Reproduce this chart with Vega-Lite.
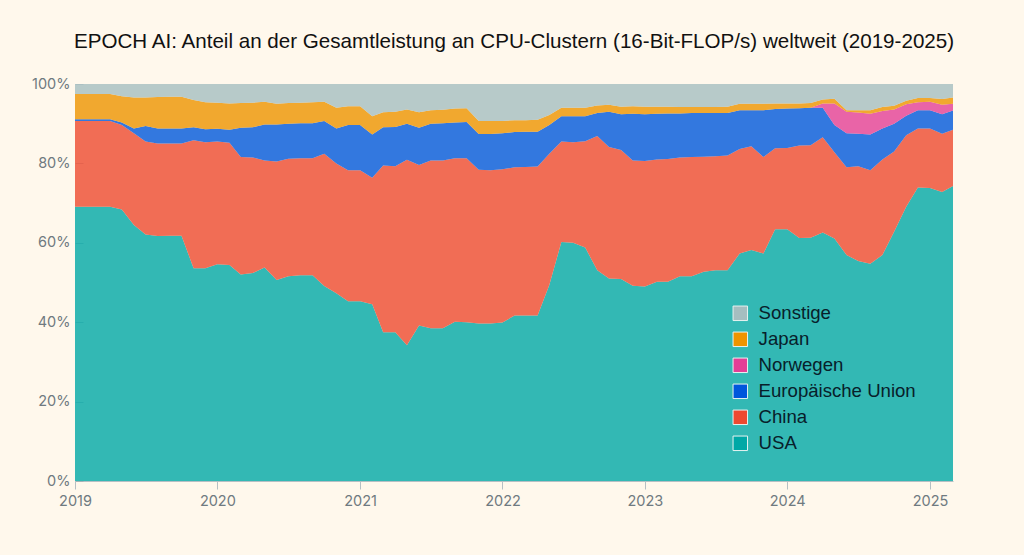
{"$schema":"https://vega.github.io/schema/vega-lite/v6.json","width":878,"height":397,"autosize":{"type":"none"},"padding":{"left":75,"top":84,"right":71,"bottom":74},"background":"#fff8ec","title":{"text":"EPOCH AI: Anteil an der Gesamtleistung an CPU-Clustern (16-Bit-FLOP/s) weltweit (2019-2025)","font":"Liberation Sans","fontSize":20.6,"fontWeight":"normal","color":"#111111","anchor":"middle","offset":23},"config":{"view":{"stroke":null}},"datasets":{"stacking":[{"region":"USA","rank":1},{"region":"China","rank":2},{"region":"Europäische Union","rank":3},{"region":"Norwegen","rank":4},{"region":"Japan","rank":5},{"region":"Sonstige","rank":6}],"shares":[
{"month":"2019-01-01","region":"USA","share":69.1},{"month":"2019-02-01","region":"USA","share":69.1},{"month":"2019-03-01","region":"USA","share":69.1},{"month":"2019-04-01","region":"USA","share":69.1},{"month":"2019-05-01","region":"USA","share":68.4},{"month":"2019-06-01","region":"USA","share":64.5},{"month":"2019-07-01","region":"USA","share":62.1},{"month":"2019-08-01","region":"USA","share":61.7},{"month":"2019-09-01","region":"USA","share":61.8},{"month":"2019-10-01","region":"USA","share":61.8},{"month":"2019-11-01","region":"USA","share":53.6},{"month":"2019-12-01","region":"USA","share":53.6},
{"month":"2020-01-01","region":"USA","share":54.6},{"month":"2020-02-01","region":"USA","share":54.4},{"month":"2020-03-01","region":"USA","share":52},{"month":"2020-04-01","region":"USA","share":52.4},{"month":"2020-05-01","region":"USA","share":53.8},{"month":"2020-06-01","region":"USA","share":50.6},{"month":"2020-07-01","region":"USA","share":51.6},{"month":"2020-08-01","region":"USA","share":51.8},{"month":"2020-09-01","region":"USA","share":51.8},{"month":"2020-10-01","region":"USA","share":49.1},{"month":"2020-11-01","region":"USA","share":47.3},{"month":"2020-12-01","region":"USA","share":45.3},
{"month":"2021-01-01","region":"USA","share":45.3},{"month":"2021-02-01","region":"USA","share":44.5},{"month":"2021-03-01","region":"USA","share":37.5},{"month":"2021-04-01","region":"USA","share":37.5},{"month":"2021-05-01","region":"USA","share":34.2},{"month":"2021-06-01","region":"USA","share":39.2},{"month":"2021-07-01","region":"USA","share":38.5},{"month":"2021-08-01","region":"USA","share":38.5},{"month":"2021-09-01","region":"USA","share":40.1},{"month":"2021-10-01","region":"USA","share":40},{"month":"2021-11-01","region":"USA","share":39.7},{"month":"2021-12-01","region":"USA","share":39.7},
{"month":"2022-01-01","region":"USA","share":39.9},{"month":"2022-02-01","region":"USA","share":41.7},{"month":"2022-03-01","region":"USA","share":41.7},{"month":"2022-04-01","region":"USA","share":41.7},{"month":"2022-05-01","region":"USA","share":49.4},{"month":"2022-06-01","region":"USA","share":60.2},{"month":"2022-07-01","region":"USA","share":60},{"month":"2022-08-01","region":"USA","share":58.8},{"month":"2022-09-01","region":"USA","share":53.1},{"month":"2022-10-01","region":"USA","share":51},{"month":"2022-11-01","region":"USA","share":50.9},{"month":"2022-12-01","region":"USA","share":49.2},
{"month":"2023-01-01","region":"USA","share":49},{"month":"2023-02-01","region":"USA","share":50.2},{"month":"2023-03-01","region":"USA","share":50.2},{"month":"2023-04-01","region":"USA","share":51.6},{"month":"2023-05-01","region":"USA","share":51.6},{"month":"2023-06-01","region":"USA","share":52.7},{"month":"2023-07-01","region":"USA","share":53.1},{"month":"2023-08-01","region":"USA","share":53.1},{"month":"2023-09-01","region":"USA","share":57.3},{"month":"2023-10-01","region":"USA","share":58.2},{"month":"2023-11-01","region":"USA","share":57.3},{"month":"2023-12-01","region":"USA","share":63.4},
{"month":"2024-01-01","region":"USA","share":63.4},{"month":"2024-02-01","region":"USA","share":61.2},{"month":"2024-03-01","region":"USA","share":61.3},{"month":"2024-04-01","region":"USA","share":62.6},{"month":"2024-05-01","region":"USA","share":61.1},{"month":"2024-06-01","region":"USA","share":56.9},{"month":"2024-07-01","region":"USA","share":55.4},{"month":"2024-08-01","region":"USA","share":54.7},{"month":"2024-09-01","region":"USA","share":56.9},{"month":"2024-10-01","region":"USA","share":62.8},{"month":"2024-11-01","region":"USA","share":69.1},{"month":"2024-12-01","region":"USA","share":73.9},
{"month":"2025-01-01","region":"USA","share":73.8},{"month":"2025-02-01","region":"USA","share":72.8},{"month":"2025-03-01","region":"USA","share":74.3},

{"month":"2019-01-01","region":"China","share":21.6},{"month":"2019-02-01","region":"China","share":21.6},{"month":"2019-03-01","region":"China","share":21.6},{"month":"2019-04-01","region":"China","share":21.6},{"month":"2019-05-01","region":"China","share":21.3},{"month":"2019-06-01","region":"China","share":23.1},{"month":"2019-07-01","region":"China","share":23.4},{"month":"2019-08-01","region":"China","share":23.3},{"month":"2019-09-01","region":"China","share":23.2},{"month":"2019-10-01","region":"China","share":23.2},{"month":"2019-11-01","region":"China","share":32.2},{"month":"2019-12-01","region":"China","share":31.7},
{"month":"2020-01-01","region":"China","share":30.9},{"month":"2020-02-01","region":"China","share":30.8},{"month":"2020-03-01","region":"China","share":29.6},{"month":"2020-04-01","region":"China","share":29.1},{"month":"2020-05-01","region":"China","share":26.9},{"month":"2020-06-01","region":"China","share":29.9},{"month":"2020-07-01","region":"China","share":29.6},{"month":"2020-08-01","region":"China","share":29.5},{"month":"2020-09-01","region":"China","share":29.5},{"month":"2020-10-01","region":"China","share":33.3},{"month":"2020-11-01","region":"China","share":32.7},{"month":"2020-12-01","region":"China","share":33},
{"month":"2021-01-01","region":"China","share":33},{"month":"2021-02-01","region":"China","share":31.9},{"month":"2021-03-01","region":"China","share":42},{"month":"2021-04-01","region":"China","share":41.8},{"month":"2021-05-01","region":"China","share":46.7},{"month":"2021-06-01","region":"China","share":40.4},{"month":"2021-07-01","region":"China","share":42.2},{"month":"2021-08-01","region":"China","share":42.2},{"month":"2021-09-01","region":"China","share":41.2},{"month":"2021-10-01","region":"China","share":41.3},{"month":"2021-11-01","region":"China","share":38.7},{"month":"2021-12-01","region":"China","share":38.6},
{"month":"2022-01-01","region":"China","share":38.6},{"month":"2022-02-01","region":"China","share":37.3},{"month":"2022-03-01","region":"China","share":37.4},{"month":"2022-04-01","region":"China","share":37.5},{"month":"2022-05-01","region":"China","share":33},{"month":"2022-06-01","region":"China","share":25.3},{"month":"2022-07-01","region":"China","share":25.3},{"month":"2022-08-01","region":"China","share":26.8},{"month":"2022-09-01","region":"China","share":33.8},{"month":"2022-10-01","region":"China","share":33.1},{"month":"2022-11-01","region":"China","share":32.5},{"month":"2022-12-01","region":"China","share":31.5},
{"month":"2023-01-01","region":"China","share":31.6},{"month":"2023-02-01","region":"China","share":30.8},{"month":"2023-03-01","region":"China","share":30.9},{"month":"2023-04-01","region":"China","share":29.9},{"month":"2023-05-01","region":"China","share":30},{"month":"2023-06-01","region":"China","share":29},{"month":"2023-07-01","region":"China","share":28.7},{"month":"2023-08-01","region":"China","share":28.9},{"month":"2023-09-01","region":"China","share":26.3},{"month":"2023-10-01","region":"China","share":26.1},{"month":"2023-11-01","region":"China","share":24.3},{"month":"2023-12-01","region":"China","share":20.4},
{"month":"2024-01-01","region":"China","share":20.5},{"month":"2024-02-01","region":"China","share":23.3},{"month":"2024-03-01","region":"China","share":23.3},{"month":"2024-04-01","region":"China","share":24},{"month":"2024-05-01","region":"China","share":21.7},{"month":"2024-06-01","region":"China","share":22.1},{"month":"2024-07-01","region":"China","share":23.9},{"month":"2024-08-01","region":"China","share":23.6},{"month":"2024-09-01","region":"China","share":24.1},{"month":"2024-10-01","region":"China","share":20.2},{"month":"2024-11-01","region":"China","share":18},{"month":"2024-12-01","region":"China","share":14.9},
{"month":"2025-01-01","region":"China","share":15},{"month":"2025-02-01","region":"China","share":14.7},{"month":"2025-03-01","region":"China","share":14.2},

{"month":"2019-01-01","region":"Europäische Union","share":0.4},{"month":"2019-02-01","region":"Europäische Union","share":0.4},{"month":"2019-03-01","region":"Europäische Union","share":0.4},{"month":"2019-04-01","region":"Europäische Union","share":0.4},{"month":"2019-05-01","region":"Europäische Union","share":0.6},{"month":"2019-06-01","region":"Europäische Union","share":1.2},{"month":"2019-07-01","region":"Europäische Union","share":3.9},{"month":"2019-08-01","region":"Europäische Union","share":3.8},{"month":"2019-09-01","region":"Europäische Union","share":3.8},{"month":"2019-10-01","region":"Europäische Union","share":3.8},{"month":"2019-11-01","region":"Europäische Union","share":3.3},{"month":"2019-12-01","region":"Europäische Union","share":3.3},
{"month":"2020-01-01","region":"Europäische Union","share":3.2},{"month":"2020-02-01","region":"Europäische Union","share":3.3},{"month":"2020-03-01","region":"Europäische Union","share":7.4},{"month":"2020-04-01","region":"Europäische Union","share":7.6},{"month":"2020-05-01","region":"Europäische Union","share":9.1},{"month":"2020-06-01","region":"Europäische Union","share":9.3},{"month":"2020-07-01","region":"Europäische Union","share":8.8},{"month":"2020-08-01","region":"Europäische Union","share":8.8},{"month":"2020-09-01","region":"Europäische Union","share":8.8},{"month":"2020-10-01","region":"Europäische Union","share":8.3},{"month":"2020-11-01","region":"Europäische Union","share":8.8},{"month":"2020-12-01","region":"Europäische Union","share":11.4},
{"month":"2021-01-01","region":"Europäische Union","share":11.4},{"month":"2021-02-01","region":"Europäische Union","share":10.9},{"month":"2021-03-01","region":"Europäische Union","share":9.6},{"month":"2021-04-01","region":"Europäische Union","share":9.9},{"month":"2021-05-01","region":"Europäische Union","share":9.1},{"month":"2021-06-01","region":"Europäische Union","share":9.4},{"month":"2021-07-01","region":"Europäische Union","share":9.3},{"month":"2021-08-01","region":"Europäische Union","share":9.4},{"month":"2021-09-01","region":"Europäische Union","share":9},{"month":"2021-10-01","region":"Europäische Union","share":9.1},{"month":"2021-11-01","region":"Europäische Union","share":9},{"month":"2021-12-01","region":"Europäische Union","share":9.1},
{"month":"2022-01-01","region":"Europäische Union","share":9.1},{"month":"2022-02-01","region":"Europäische Union","share":8.9},{"month":"2022-03-01","region":"Europäische Union","share":8.9},{"month":"2022-04-01","region":"Europäische Union","share":8.8},{"month":"2022-05-01","region":"Europäische Union","share":7.3},{"month":"2022-06-01","region":"Europäische Union","share":6.4},{"month":"2022-07-01","region":"Europäische Union","share":6.6},{"month":"2022-08-01","region":"Europäische Union","share":6.3},{"month":"2022-09-01","region":"Europäische Union","share":5.8},{"month":"2022-10-01","region":"Europäische Union","share":8.9},{"month":"2022-11-01","region":"Europäische Union","share":9},{"month":"2022-12-01","region":"Europäische Union","share":11.8},
{"month":"2023-01-01","region":"Europäische Union","share":11.8},{"month":"2023-02-01","region":"Europäische Union","share":11.5},{"month":"2023-03-01","region":"Europäische Union","share":11.5},{"month":"2023-04-01","region":"Europäische Union","share":11.1},{"month":"2023-05-01","region":"Europäische Union","share":11.1},{"month":"2023-06-01","region":"Europäische Union","share":11},{"month":"2023-07-01","region":"Europäische Union","share":10.9},{"month":"2023-08-01","region":"Europäische Union","share":10.7},{"month":"2023-09-01","region":"Europäische Union","share":9.8},{"month":"2023-10-01","region":"Europäische Union","share":9.1},{"month":"2023-11-01","region":"Europäische Union","share":11.8},{"month":"2023-12-01","region":"Europäische Union","share":9.9},
{"month":"2024-01-01","region":"Europäische Union","share":9.9},{"month":"2024-02-01","region":"Europäische Union","share":9.4},{"month":"2024-03-01","region":"Europäische Union","share":9.4},{"month":"2024-04-01","region":"Europäische Union","share":7.4},{"month":"2024-05-01","region":"Europäische Union","share":6.9},{"month":"2024-06-01","region":"Europäische Union","share":8.6},{"month":"2024-07-01","region":"Europäische Union","share":8.2},{"month":"2024-08-01","region":"Europäische Union","share":9},{"month":"2024-09-01","region":"Europäische Union","share":7.8},{"month":"2024-10-01","region":"Europäische Union","share":7},{"month":"2024-11-01","region":"Europäische Union","share":4.9},{"month":"2024-12-01","region":"Europäische Union","share":4.6},
{"month":"2025-01-01","region":"Europäische Union","share":4.6},{"month":"2025-02-01","region":"Europäische Union","share":4.9},{"month":"2025-03-01","region":"Europäische Union","share":4.8},

{"month":"2019-01-01","region":"Norwegen","share":0},{"month":"2019-02-01","region":"Norwegen","share":0},{"month":"2019-03-01","region":"Norwegen","share":0},{"month":"2019-04-01","region":"Norwegen","share":0},{"month":"2019-05-01","region":"Norwegen","share":0},{"month":"2019-06-01","region":"Norwegen","share":0},{"month":"2019-07-01","region":"Norwegen","share":0},{"month":"2019-08-01","region":"Norwegen","share":0},{"month":"2019-09-01","region":"Norwegen","share":0},{"month":"2019-10-01","region":"Norwegen","share":0},{"month":"2019-11-01","region":"Norwegen","share":0},{"month":"2019-12-01","region":"Norwegen","share":0},
{"month":"2020-01-01","region":"Norwegen","share":0},{"month":"2020-02-01","region":"Norwegen","share":0},{"month":"2020-03-01","region":"Norwegen","share":0},{"month":"2020-04-01","region":"Norwegen","share":0},{"month":"2020-05-01","region":"Norwegen","share":0},{"month":"2020-06-01","region":"Norwegen","share":0},{"month":"2020-07-01","region":"Norwegen","share":0},{"month":"2020-08-01","region":"Norwegen","share":0},{"month":"2020-09-01","region":"Norwegen","share":0},{"month":"2020-10-01","region":"Norwegen","share":0},{"month":"2020-11-01","region":"Norwegen","share":0},{"month":"2020-12-01","region":"Norwegen","share":0},
{"month":"2021-01-01","region":"Norwegen","share":0},{"month":"2021-02-01","region":"Norwegen","share":0},{"month":"2021-03-01","region":"Norwegen","share":0},{"month":"2021-04-01","region":"Norwegen","share":0},{"month":"2021-05-01","region":"Norwegen","share":0},{"month":"2021-06-01","region":"Norwegen","share":0},{"month":"2021-07-01","region":"Norwegen","share":0},{"month":"2021-08-01","region":"Norwegen","share":0},{"month":"2021-09-01","region":"Norwegen","share":0},{"month":"2021-10-01","region":"Norwegen","share":0},{"month":"2021-11-01","region":"Norwegen","share":0},{"month":"2021-12-01","region":"Norwegen","share":0},
{"month":"2022-01-01","region":"Norwegen","share":0},{"month":"2022-02-01","region":"Norwegen","share":0},{"month":"2022-03-01","region":"Norwegen","share":0},{"month":"2022-04-01","region":"Norwegen","share":0},{"month":"2022-05-01","region":"Norwegen","share":0},{"month":"2022-06-01","region":"Norwegen","share":0},{"month":"2022-07-01","region":"Norwegen","share":0},{"month":"2022-08-01","region":"Norwegen","share":0},{"month":"2022-09-01","region":"Norwegen","share":0},{"month":"2022-10-01","region":"Norwegen","share":0},{"month":"2022-11-01","region":"Norwegen","share":0},{"month":"2022-12-01","region":"Norwegen","share":0},
{"month":"2023-01-01","region":"Norwegen","share":0},{"month":"2023-02-01","region":"Norwegen","share":0},{"month":"2023-03-01","region":"Norwegen","share":0},{"month":"2023-04-01","region":"Norwegen","share":0},{"month":"2023-05-01","region":"Norwegen","share":0},{"month":"2023-06-01","region":"Norwegen","share":0},{"month":"2023-07-01","region":"Norwegen","share":0},{"month":"2023-08-01","region":"Norwegen","share":0},{"month":"2023-09-01","region":"Norwegen","share":0},{"month":"2023-10-01","region":"Norwegen","share":0},{"month":"2023-11-01","region":"Norwegen","share":0},{"month":"2023-12-01","region":"Norwegen","share":0},
{"month":"2024-01-01","region":"Norwegen","share":0},{"month":"2024-02-01","region":"Norwegen","share":0},{"month":"2024-03-01","region":"Norwegen","share":0},{"month":"2024-04-01","region":"Norwegen","share":1.1},{"month":"2024-05-01","region":"Norwegen","share":5.4},{"month":"2024-06-01","region":"Norwegen","share":5.4},{"month":"2024-07-01","region":"Norwegen","share":5.3},{"month":"2024-08-01","region":"Norwegen","share":5.2},{"month":"2024-09-01","region":"Norwegen","share":4.4},{"month":"2024-10-01","region":"Norwegen","share":3.6},{"month":"2024-11-01","region":"Norwegen","share":2.9},{"month":"2024-12-01","region":"Norwegen","share":2},
{"month":"2025-01-01","region":"Norwegen","share":2.1},{"month":"2025-02-01","region":"Norwegen","share":2.4},{"month":"2025-03-01","region":"Norwegen","share":1.7},

{"month":"2019-01-01","region":"Japan","share":6.4},{"month":"2019-02-01","region":"Japan","share":6.4},{"month":"2019-03-01","region":"Japan","share":6.4},{"month":"2019-04-01","region":"Japan","share":6.4},{"month":"2019-05-01","region":"Japan","share":6.6},{"month":"2019-06-01","region":"Japan","share":7.8},{"month":"2019-07-01","region":"Japan","share":7.2},{"month":"2019-08-01","region":"Japan","share":7.9},{"month":"2019-09-01","region":"Japan","share":8},{"month":"2019-10-01","region":"Japan","share":8},{"month":"2019-11-01","region":"Japan","share":6.9},{"month":"2019-12-01","region":"Japan","share":6.8},
{"month":"2020-01-01","region":"Japan","share":6.6},{"month":"2020-02-01","region":"Japan","share":6.6},{"month":"2020-03-01","region":"Japan","share":6.2},{"month":"2020-04-01","region":"Japan","share":6.2},{"month":"2020-05-01","region":"Japan","share":5.7},{"month":"2020-06-01","region":"Japan","share":5.2},{"month":"2020-07-01","region":"Japan","share":5.2},{"month":"2020-08-01","region":"Japan","share":5.2},{"month":"2020-09-01","region":"Japan","share":5.3},{"month":"2020-10-01","region":"Japan","share":4.8},{"month":"2020-11-01","region":"Japan","share":5.2},{"month":"2020-12-01","region":"Japan","share":4.7},
{"month":"2021-01-01","region":"Japan","share":4.7},{"month":"2021-02-01","region":"Japan","share":4.6},{"month":"2021-03-01","region":"Japan","share":3.8},{"month":"2021-04-01","region":"Japan","share":3.8},{"month":"2021-05-01","region":"Japan","share":3.6},{"month":"2021-06-01","region":"Japan","share":3.9},{"month":"2021-07-01","region":"Japan","share":3.4},{"month":"2021-08-01","region":"Japan","share":3.4},{"month":"2021-09-01","region":"Japan","share":3.5},{"month":"2021-10-01","region":"Japan","share":3.5},{"month":"2021-11-01","region":"Japan","share":3.3},{"month":"2021-12-01","region":"Japan","share":3.3},
{"month":"2022-01-01","region":"Japan","share":3.1},{"month":"2022-02-01","region":"Japan","share":3},{"month":"2022-03-01","region":"Japan","share":2.9},{"month":"2022-04-01","region":"Japan","share":3},{"month":"2022-05-01","region":"Japan","share":2.5},{"month":"2022-06-01","region":"Japan","share":2.1},{"month":"2022-07-01","region":"Japan","share":2.1},{"month":"2022-08-01","region":"Japan","share":2.1},{"month":"2022-09-01","region":"Japan","share":1.9},{"month":"2022-10-01","region":"Japan","share":1.8},{"month":"2022-11-01","region":"Japan","share":1.9},{"month":"2022-12-01","region":"Japan","share":1.9},
{"month":"2023-01-01","region":"Japan","share":1.9},{"month":"2023-02-01","region":"Japan","share":1.8},{"month":"2023-03-01","region":"Japan","share":1.7},{"month":"2023-04-01","region":"Japan","share":1.6},{"month":"2023-05-01","region":"Japan","share":1.5},{"month":"2023-06-01","region":"Japan","share":1.5},{"month":"2023-07-01","region":"Japan","share":1.5},{"month":"2023-08-01","region":"Japan","share":1.6},{"month":"2023-09-01","region":"Japan","share":1.6},{"month":"2023-10-01","region":"Japan","share":1.6},{"month":"2023-11-01","region":"Japan","share":1.6},{"month":"2023-12-01","region":"Japan","share":1.4},
{"month":"2024-01-01","region":"Japan","share":1.3},{"month":"2024-02-01","region":"Japan","share":1.2},{"month":"2024-03-01","region":"Japan","share":1.2},{"month":"2024-04-01","region":"Japan","share":1},{"month":"2024-05-01","region":"Japan","share":1.2},{"month":"2024-06-01","region":"Japan","share":0.4},{"month":"2024-07-01","region":"Japan","share":0.6},{"month":"2024-08-01","region":"Japan","share":0.9},{"month":"2024-09-01","region":"Japan","share":1},{"month":"2024-10-01","region":"Japan","share":0.9},{"month":"2024-11-01","region":"Japan","share":0.9},{"month":"2024-12-01","region":"Japan","share":1.1},
{"month":"2025-01-01","region":"Japan","share":1},{"month":"2025-02-01","region":"Japan","share":1.4},{"month":"2025-03-01","region":"Japan","share":1.6},

{"month":"2019-01-01","region":"Sonstige","share":2.5},{"month":"2019-02-01","region":"Sonstige","share":2.5},{"month":"2019-03-01","region":"Sonstige","share":2.5},{"month":"2019-04-01","region":"Sonstige","share":2.5},{"month":"2019-05-01","region":"Sonstige","share":3.1},{"month":"2019-06-01","region":"Sonstige","share":3.4},{"month":"2019-07-01","region":"Sonstige","share":3.4},{"month":"2019-08-01","region":"Sonstige","share":3.3},{"month":"2019-09-01","region":"Sonstige","share":3.2},{"month":"2019-10-01","region":"Sonstige","share":3.2},{"month":"2019-11-01","region":"Sonstige","share":4},{"month":"2019-12-01","region":"Sonstige","share":4.6},
{"month":"2020-01-01","region":"Sonstige","share":4.7},{"month":"2020-02-01","region":"Sonstige","share":4.9},{"month":"2020-03-01","region":"Sonstige","share":4.8},{"month":"2020-04-01","region":"Sonstige","share":4.7},{"month":"2020-05-01","region":"Sonstige","share":4.5},{"month":"2020-06-01","region":"Sonstige","share":5},{"month":"2020-07-01","region":"Sonstige","share":4.8},{"month":"2020-08-01","region":"Sonstige","share":4.7},{"month":"2020-09-01","region":"Sonstige","share":4.6},{"month":"2020-10-01","region":"Sonstige","share":4.5},{"month":"2020-11-01","region":"Sonstige","share":6},{"month":"2020-12-01","region":"Sonstige","share":5.6},
{"month":"2021-01-01","region":"Sonstige","share":5.6},{"month":"2021-02-01","region":"Sonstige","share":8.1},{"month":"2021-03-01","region":"Sonstige","share":7.1},{"month":"2021-04-01","region":"Sonstige","share":7},{"month":"2021-05-01","region":"Sonstige","share":6.4},{"month":"2021-06-01","region":"Sonstige","share":7.1},{"month":"2021-07-01","region":"Sonstige","share":6.6},{"month":"2021-08-01","region":"Sonstige","share":6.5},{"month":"2021-09-01","region":"Sonstige","share":6.2},{"month":"2021-10-01","region":"Sonstige","share":6.1},{"month":"2021-11-01","region":"Sonstige","share":9.3},{"month":"2021-12-01","region":"Sonstige","share":9.3},
{"month":"2022-01-01","region":"Sonstige","share":9.3},{"month":"2022-02-01","region":"Sonstige","share":9.1},{"month":"2022-03-01","region":"Sonstige","share":9.1},{"month":"2022-04-01","region":"Sonstige","share":9},{"month":"2022-05-01","region":"Sonstige","share":7.8},{"month":"2022-06-01","region":"Sonstige","share":6},{"month":"2022-07-01","region":"Sonstige","share":6},{"month":"2022-08-01","region":"Sonstige","share":6},{"month":"2022-09-01","region":"Sonstige","share":5.4},{"month":"2022-10-01","region":"Sonstige","share":5.2},{"month":"2022-11-01","region":"Sonstige","share":5.7},{"month":"2022-12-01","region":"Sonstige","share":5.6},
{"month":"2023-01-01","region":"Sonstige","share":5.7},{"month":"2023-02-01","region":"Sonstige","share":5.7},{"month":"2023-03-01","region":"Sonstige","share":5.7},{"month":"2023-04-01","region":"Sonstige","share":5.8},{"month":"2023-05-01","region":"Sonstige","share":5.8},{"month":"2023-06-01","region":"Sonstige","share":5.8},{"month":"2023-07-01","region":"Sonstige","share":5.8},{"month":"2023-08-01","region":"Sonstige","share":5.7},{"month":"2023-09-01","region":"Sonstige","share":5},{"month":"2023-10-01","region":"Sonstige","share":5},{"month":"2023-11-01","region":"Sonstige","share":5},{"month":"2023-12-01","region":"Sonstige","share":4.9},
{"month":"2024-01-01","region":"Sonstige","share":4.9},{"month":"2024-02-01","region":"Sonstige","share":4.9},{"month":"2024-03-01","region":"Sonstige","share":4.8},{"month":"2024-04-01","region":"Sonstige","share":3.9},{"month":"2024-05-01","region":"Sonstige","share":3.7},{"month":"2024-06-01","region":"Sonstige","share":6.6},{"month":"2024-07-01","region":"Sonstige","share":6.6},{"month":"2024-08-01","region":"Sonstige","share":6.6},{"month":"2024-09-01","region":"Sonstige","share":5.8},{"month":"2024-10-01","region":"Sonstige","share":5.5},{"month":"2024-11-01","region":"Sonstige","share":4.2},{"month":"2024-12-01","region":"Sonstige","share":3.5},
{"month":"2025-01-01","region":"Sonstige","share":3.5},{"month":"2025-02-01","region":"Sonstige","share":3.8},{"month":"2025-03-01","region":"Sonstige","share":3.4}
]},"data":{"name":"shares"},"transform":[{"lookup":"region","from":{"data":{"name":"stacking"},"key":"region","fields":["rank"]}}],"mark":{"type":"area","opacity":0.8},"encoding":{"x":{"field":"month","type":"temporal","title":null,"scale":{"type":"utc","domain":["2019-01-01","2025-03-01"],"nice":false},"axis":{"format":"%Y","tickCount":{"interval":"year","step":1},"grid":false,"labelFlush":false,"domainColor":"#b5c0c4","tickColor":"#b5c0c4","tickSize":8,"labelColor":"#6f7a80","labelFont":"Inter","labelFontSize":14.5,"labelPadding":5}},"y":{"field":"share","type":"quantitative","stack":"zero","title":null,"scale":{"domain":[0,100],"nice":false},"axis":{"format":".0f","labelExpr":"datum.label + '%'","values":[0,20,40,60,80,100],"grid":false,"domain":false,"labelFlush":false,"tickColor":"#9aa8ad","tickSize":-8,"tickOpacity":0.6,"labelColor":"#6f7a80","labelFont":"Inter","labelFontSize":14.5,"labelPadding":13}},"color":{"field":"region","type":"nominal","scale":{"domain":["Sonstige","Japan","Norwegen","Europäische Union","China","USA"],"range":["#a5bec0","#ee9400","#e43e96","#0057dc","#ed4a30","#00a8a6"]},"legend":{"title":null,"orient":"none","legendX":656,"legendY":220,"symbolType":"square","symbolSize":210,"symbolOpacity":1,"symbolStrokeColor":"#e8f2f0","symbolStrokeWidth":1,"labelFont":"Liberation Sans","labelFontSize":18.6,"labelColor":"#08202a","labelOffset":9,"rowPadding":7,"labelLimit":260}},"order":{"field":"rank","type":"quantitative"}}}
